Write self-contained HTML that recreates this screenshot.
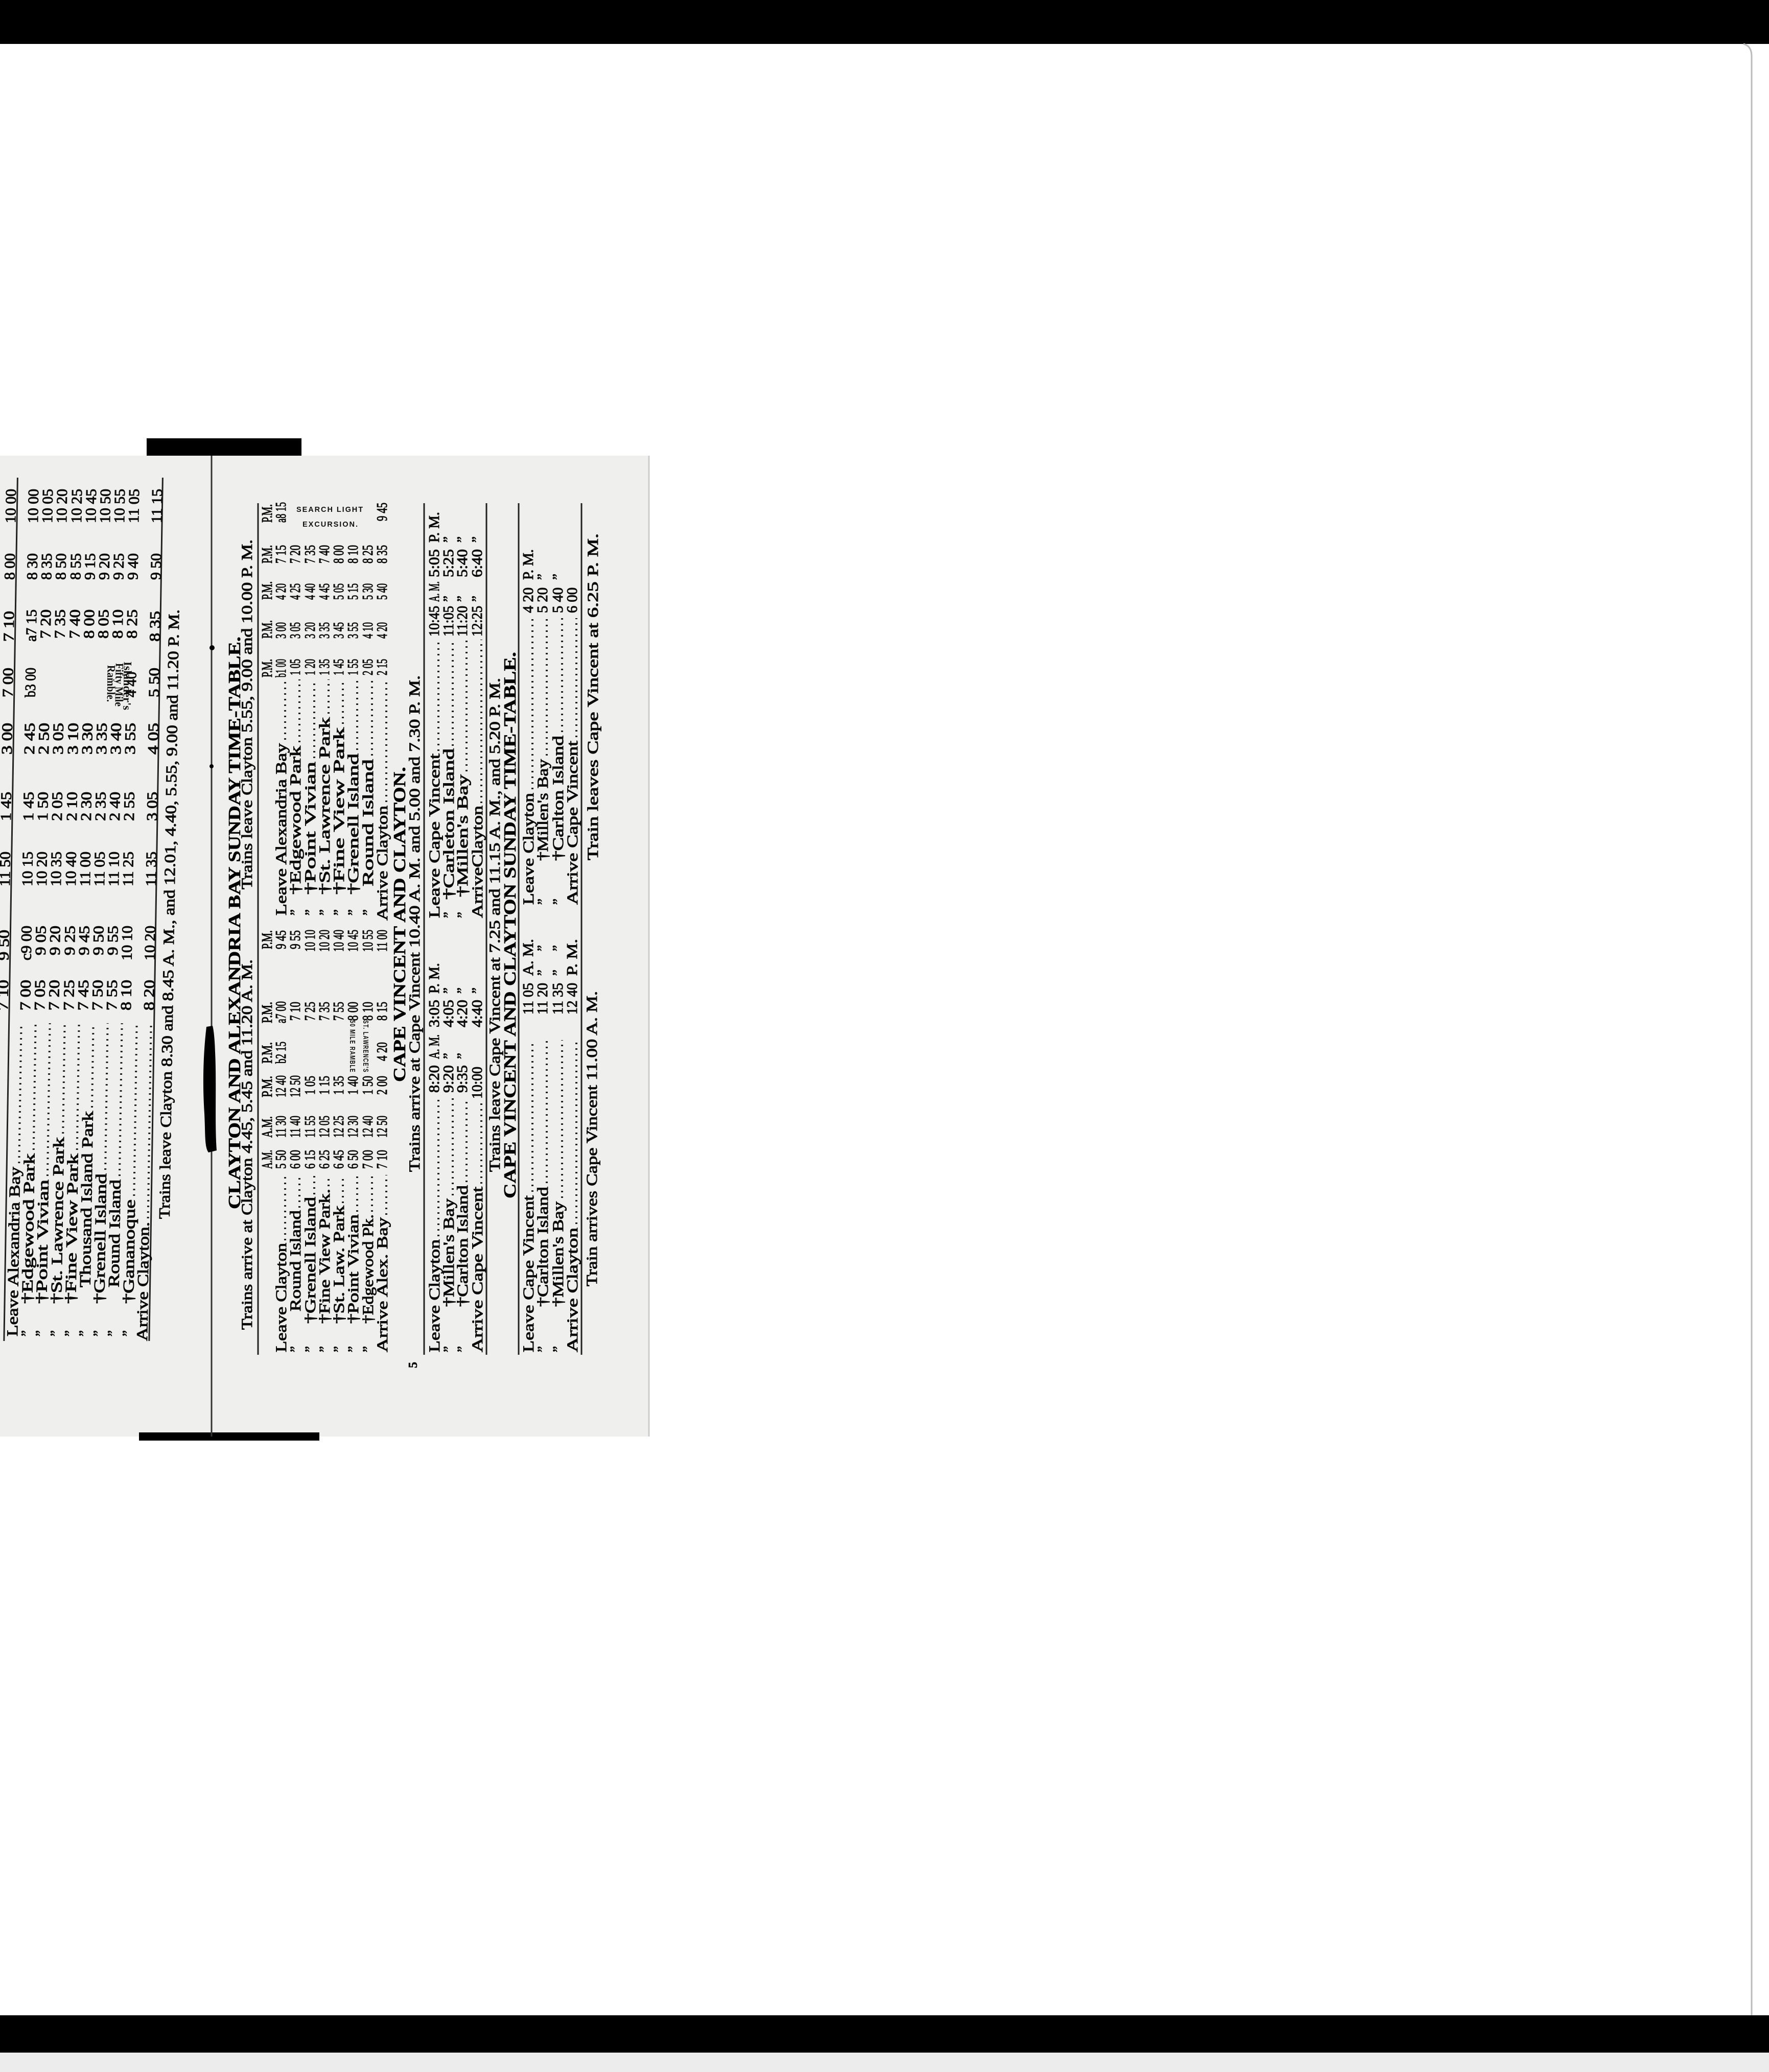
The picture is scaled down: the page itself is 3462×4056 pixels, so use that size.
<!DOCTYPE html>
<html><head><meta charset="utf-8"><style>
html,body{margin:0;padding:0;background:#fff}
svg{display:block}
.t{font-family:"Liberation Serif",serif;font-size:30px;fill:#0a0a0a;stroke:#0a0a0a;stroke-width:1}
.m{font-family:"Liberation Serif",serif;font-size:29px;fill:#0a0a0a;stroke:#0a0a0a;stroke-width:1}
.b{font-family:"Liberation Serif",serif;font-size:34px;font-weight:bold;fill:#000;stroke:#000;stroke-width:0.6}
.s{font-family:"Liberation Sans",sans-serif;font-size:15px;font-weight:bold;fill:#111;letter-spacing:2px}
.r{stroke:#222;stroke-width:3}
.d{stroke:#222;stroke-width:4;stroke-dasharray:3 8}
</style></head><body>
<svg width="3462" height="4056" viewBox="0 0 3462 4056" xmlns="http://www.w3.org/2000/svg">
<rect x="0" y="0" width="3462" height="4056" fill="#fff"/>
<rect x="0" y="0" width="3462" height="86" fill="#000"/>
<path d="M3412 86 Q3428 90 3428 110 L3428 3945" stroke="#bbb" stroke-width="3" fill="none"/>
<rect x="0" y="3945" width="3462" height="73" fill="#000"/>
<rect x="0" y="4018" width="3462" height="38" fill="#ececec"/>

<!-- card -->
<rect x="0" y="892" width="1270" height="1920" fill="#efefed"/>
<line x1="1270" y1="892" x2="1270" y2="2812" stroke="#ccc" stroke-width="3"/>
<rect x="287" y="858" width="303" height="34" fill="#000"/>
<rect x="272" y="2804" width="353" height="16" fill="#000"/>
<line x1="414" y1="892" x2="414" y2="2812" stroke="#333" stroke-width="3"/>
<path d="M404 2010 C398 2060 396 2120 400 2180 C402 2220 400 2245 408 2256 L424 2252 C420 2200 424 2120 421 2060 C420 2030 418 2015 416 2008 Z" fill="#000"/>
<circle cx="415" cy="1268" r="5" fill="#000"/><circle cx="414" cy="1500" r="4" fill="#000"/>

<!-- RIGHT PANEL -->
<text class="b" transform="translate(470 2367)rotate(-90)" textLength="1121" lengthAdjust="spacingAndGlyphs">CLAYTON AND ALEXANDRIA BAY SUNDAY TIME-TABLE.</text>
<text class="t" transform="translate(493 2603)rotate(-90)" textLength="725" lengthAdjust="spacingAndGlyphs">Trains arrive at Clayton 4.45, 5.45 and 11.20 A. M.</text>
<text class="t" transform="translate(493 1741)rotate(-90)" textLength="685" lengthAdjust="spacingAndGlyphs">Trains leave Clayton 5.55, 9.00 and 10.00 P. M.</text>
<line class="r" x1="505" y1="2652" x2="505" y2="985"/>
<!-- headers -->
<g class="m">
<text transform="translate(532 2288)rotate(-90)" textLength="37" lengthAdjust="spacingAndGlyphs">A.M.</text>
<text transform="translate(532 2227)rotate(-90)" textLength="42" lengthAdjust="spacingAndGlyphs">A.M.</text>
<text transform="translate(532 2148)rotate(-90)" textLength="42" lengthAdjust="spacingAndGlyphs">P.M.</text>
<text transform="translate(532 2082)rotate(-90)" textLength="42" lengthAdjust="spacingAndGlyphs">P.M.</text>
<text transform="translate(532 2003)rotate(-90)" textLength="42" lengthAdjust="spacingAndGlyphs">P.M.</text>
<text transform="translate(532 1858)rotate(-90)" textLength="37" lengthAdjust="spacingAndGlyphs">P.M.</text>
<text transform="translate(532 1326)rotate(-90)" textLength="36" lengthAdjust="spacingAndGlyphs">P.M.</text>
<text transform="translate(532 1250)rotate(-90)" textLength="36" lengthAdjust="spacingAndGlyphs">P.M.</text>
<text transform="translate(532 1174)rotate(-90)" textLength="36" lengthAdjust="spacingAndGlyphs">P.M.</text>
<text transform="translate(532 1103)rotate(-90)" textLength="36" lengthAdjust="spacingAndGlyphs">P.M.</text>
<text transform="translate(532 1023)rotate(-90)" textLength="36" lengthAdjust="spacingAndGlyphs">P.M.</text>
</g>
<!-- left labels main -->
<g class="t">
<text transform="translate(560 2647)rotate(-90)" textLength="214" lengthAdjust="spacingAndGlyphs">Leave Clayton</text>
<text transform="translate(588 2647)rotate(-90)" textLength="12" lengthAdjust="spacingAndGlyphs">”</text>
<text transform="translate(588 2567)rotate(-90)" textLength="198" lengthAdjust="spacingAndGlyphs">Round Island</text>
<text transform="translate(617 2647)rotate(-90)" textLength="12" lengthAdjust="spacingAndGlyphs">”</text>
<text transform="translate(617 2591)rotate(-90)" textLength="248" lengthAdjust="spacingAndGlyphs">†Grenell Island</text>
<text transform="translate(645 2647)rotate(-90)" textLength="12" lengthAdjust="spacingAndGlyphs">”</text>
<text transform="translate(645 2591)rotate(-90)" textLength="264" lengthAdjust="spacingAndGlyphs">†Fine View Park.</text>
<text transform="translate(673 2647)rotate(-90)" textLength="12" lengthAdjust="spacingAndGlyphs">”</text>
<text transform="translate(673 2591)rotate(-90)" textLength="231" lengthAdjust="spacingAndGlyphs">†St. Law. Park</text>
<text transform="translate(701 2647)rotate(-90)" textLength="12" lengthAdjust="spacingAndGlyphs">”</text>
<text transform="translate(701 2591)rotate(-90)" textLength="214" lengthAdjust="spacingAndGlyphs">†Point Vivian</text>
<text transform="translate(730 2647)rotate(-90)" textLength="12" lengthAdjust="spacingAndGlyphs">”</text>
<text transform="translate(730 2591)rotate(-90)" textLength="214" lengthAdjust="spacingAndGlyphs">†Edgewood Pk.</text>
<text transform="translate(758 2647)rotate(-90)" textLength="264" lengthAdjust="spacingAndGlyphs">Arrive Alex. Bay</text>
</g>
<g>
<line class="d" x1="558" y1="2428" x2="558" y2="2300"/>
<line class="d" x1="586" y1="2364" x2="586" y2="2300"/>
<line class="d" x1="615" y1="2338" x2="615" y2="2300"/>
<line class="d" x1="643" y1="2322" x2="643" y2="2300"/>
<line class="d" x1="671" y1="2355" x2="671" y2="2300"/>
<line class="d" x1="699" y1="2372" x2="699" y2="2300"/>
<line class="d" x1="728" y1="2372" x2="728" y2="2300"/>
<line class="d" x1="756" y1="2378" x2="756" y2="2300"/>
</g>
<!-- right labels main -->
<g class="t">
<text transform="translate(560 1792)rotate(-90)" textLength="337" lengthAdjust="spacingAndGlyphs">Leave Alexandria Bay</text>
<text transform="translate(588 1792)rotate(-90)" textLength="12" lengthAdjust="spacingAndGlyphs">”</text>
<text transform="translate(588 1751)rotate(-90)" textLength="291" lengthAdjust="spacingAndGlyphs">†Edgewood Park</text>
<text transform="translate(617 1792)rotate(-90)" textLength="12" lengthAdjust="spacingAndGlyphs">”</text>
<text transform="translate(617 1751)rotate(-90)" textLength="260" lengthAdjust="spacingAndGlyphs">†Point Vivian</text>
<text transform="translate(645 1792)rotate(-90)" textLength="12" lengthAdjust="spacingAndGlyphs">”</text>
<text transform="translate(645 1751)rotate(-90)" textLength="347" lengthAdjust="spacingAndGlyphs">†St. Lawrence  Park</text>
<text transform="translate(673 1792)rotate(-90)" textLength="12" lengthAdjust="spacingAndGlyphs">”</text>
<text transform="translate(673 1751)rotate(-90)" textLength="327" lengthAdjust="spacingAndGlyphs">†Fine View Park</text>
<text transform="translate(701 1792)rotate(-90)" textLength="12" lengthAdjust="spacingAndGlyphs">”</text>
<text transform="translate(701 1751)rotate(-90)" textLength="276" lengthAdjust="spacingAndGlyphs">†Grenell Island</text>
<text transform="translate(730 1792)rotate(-90)" textLength="12" lengthAdjust="spacingAndGlyphs">”</text>
<text transform="translate(730 1735)rotate(-90)" textLength="249" lengthAdjust="spacingAndGlyphs">Round Island</text>
<text transform="translate(758 1802)rotate(-90)" textLength="225" lengthAdjust="spacingAndGlyphs">Arrive Clayton</text>
</g>
<g>
<line class="d" x1="558" y1="1448" x2="558" y2="1330"/>
<line class="d" x1="586" y1="1453" x2="586" y2="1330"/>
<line class="d" x1="615" y1="1484" x2="615" y2="1330"/>
<line class="d" x1="643" y1="1397" x2="643" y2="1330"/>
<line class="d" x1="671" y1="1417" x2="671" y2="1330"/>
<line class="d" x1="699" y1="1468" x2="699" y2="1330"/>
<line class="d" x1="728" y1="1479" x2="728" y2="1330"/>
<line class="d" x1="756" y1="1570" x2="756" y2="1330"/>
</g>
<!-- main times -->
<g class="m">
<text transform="translate(559 2288)rotate(-90)" textLength="37" lengthAdjust="spacingAndGlyphs">5 50</text>
<text transform="translate(559 2227)rotate(-90)" textLength="43" lengthAdjust="spacingAndGlyphs">11 30</text>
<text transform="translate(559 2148)rotate(-90)" textLength="43" lengthAdjust="spacingAndGlyphs">12 40</text>
<text transform="translate(559 2082)rotate(-90)" textLength="43" lengthAdjust="spacingAndGlyphs">b2 15</text>
<text transform="translate(559 2003)rotate(-90)" textLength="43" lengthAdjust="spacingAndGlyphs">a7 00</text>
<text transform="translate(559 1858)rotate(-90)" textLength="37" lengthAdjust="spacingAndGlyphs">9 45</text>

<text transform="translate(587 2288)rotate(-90)" textLength="37" lengthAdjust="spacingAndGlyphs">6 00</text>
<text transform="translate(587 2227)rotate(-90)" textLength="43" lengthAdjust="spacingAndGlyphs">11 40</text>
<text transform="translate(587 2148)rotate(-90)" textLength="43" lengthAdjust="spacingAndGlyphs">12 50</text>
<text transform="translate(587 1998)rotate(-90)" textLength="37" lengthAdjust="spacingAndGlyphs">7 10</text>
<text transform="translate(587 1858)rotate(-90)" textLength="37" lengthAdjust="spacingAndGlyphs">9 55</text>

<text transform="translate(616 2288)rotate(-90)" textLength="37" lengthAdjust="spacingAndGlyphs">6 15</text>
<text transform="translate(616 2227)rotate(-90)" textLength="43" lengthAdjust="spacingAndGlyphs">11 55</text>
<text transform="translate(616 2143)rotate(-90)" textLength="37" lengthAdjust="spacingAndGlyphs">1 05</text>
<text transform="translate(616 1998)rotate(-90)" textLength="37" lengthAdjust="spacingAndGlyphs">7 25</text>
<text transform="translate(616 1863)rotate(-90)" textLength="43" lengthAdjust="spacingAndGlyphs">10 10</text>

<text transform="translate(644 2288)rotate(-90)" textLength="37" lengthAdjust="spacingAndGlyphs">6 25</text>
<text transform="translate(644 2227)rotate(-90)" textLength="43" lengthAdjust="spacingAndGlyphs">12 05</text>
<text transform="translate(644 2143)rotate(-90)" textLength="37" lengthAdjust="spacingAndGlyphs">1 15</text>
<text transform="translate(644 1998)rotate(-90)" textLength="37" lengthAdjust="spacingAndGlyphs">7 35</text>
<text transform="translate(644 1863)rotate(-90)" textLength="43" lengthAdjust="spacingAndGlyphs">10 20</text>

<text transform="translate(672 2288)rotate(-90)" textLength="37" lengthAdjust="spacingAndGlyphs">6 45</text>
<text transform="translate(672 2227)rotate(-90)" textLength="43" lengthAdjust="spacingAndGlyphs">12 25</text>
<text transform="translate(672 2143)rotate(-90)" textLength="37" lengthAdjust="spacingAndGlyphs">1 35</text>
<text transform="translate(672 1998)rotate(-90)" textLength="37" lengthAdjust="spacingAndGlyphs">7 55</text>
<text transform="translate(672 1863)rotate(-90)" textLength="43" lengthAdjust="spacingAndGlyphs">10 40</text>

<text transform="translate(700 2288)rotate(-90)" textLength="37" lengthAdjust="spacingAndGlyphs">6 50</text>
<text transform="translate(700 2227)rotate(-90)" textLength="43" lengthAdjust="spacingAndGlyphs">12 30</text>
<text transform="translate(700 2143)rotate(-90)" textLength="37" lengthAdjust="spacingAndGlyphs">1 40</text>
<text transform="translate(700 1998)rotate(-90)" textLength="37" lengthAdjust="spacingAndGlyphs">8 00</text>
<text transform="translate(700 1863)rotate(-90)" textLength="43" lengthAdjust="spacingAndGlyphs">10 45</text>

<text transform="translate(729 2288)rotate(-90)" textLength="37" lengthAdjust="spacingAndGlyphs">7 00</text>
<text transform="translate(729 2227)rotate(-90)" textLength="43" lengthAdjust="spacingAndGlyphs">12 40</text>
<text transform="translate(729 2143)rotate(-90)" textLength="37" lengthAdjust="spacingAndGlyphs">1 50</text>
<text transform="translate(729 1998)rotate(-90)" textLength="37" lengthAdjust="spacingAndGlyphs">8 10</text>
<text transform="translate(729 1863)rotate(-90)" textLength="43" lengthAdjust="spacingAndGlyphs">10 55</text>

<text transform="translate(757 2288)rotate(-90)" textLength="37" lengthAdjust="spacingAndGlyphs">7 10</text>
<text transform="translate(757 2227)rotate(-90)" textLength="43" lengthAdjust="spacingAndGlyphs">12 50</text>
<text transform="translate(757 2143)rotate(-90)" textLength="37" lengthAdjust="spacingAndGlyphs">2 00</text>
<text transform="translate(757 2077)rotate(-90)" textLength="37" lengthAdjust="spacingAndGlyphs">4 20</text>
<text transform="translate(757 1998)rotate(-90)" textLength="37" lengthAdjust="spacingAndGlyphs">8 15</text>
<text transform="translate(757 1863)rotate(-90)" textLength="43" lengthAdjust="spacingAndGlyphs">11 00</text>

<!-- right columns -->
<text transform="translate(559 1326)rotate(-90)" textLength="36" lengthAdjust="spacingAndGlyphs">b1 00</text>
<text transform="translate(559 1250)rotate(-90)" textLength="32" lengthAdjust="spacingAndGlyphs">3 00</text>
<text transform="translate(559 1174)rotate(-90)" textLength="32" lengthAdjust="spacingAndGlyphs">4 20</text>
<text transform="translate(559 1103)rotate(-90)" textLength="36" lengthAdjust="spacingAndGlyphs">7 15</text>
<text transform="translate(559 1023)rotate(-90)" textLength="40" lengthAdjust="spacingAndGlyphs">a8 15</text>

<text transform="translate(587 1322)rotate(-90)" textLength="32" lengthAdjust="spacingAndGlyphs">1 05</text>
<text transform="translate(587 1250)rotate(-90)" textLength="32" lengthAdjust="spacingAndGlyphs">3 05</text>
<text transform="translate(587 1174)rotate(-90)" textLength="32" lengthAdjust="spacingAndGlyphs">4 25</text>
<text transform="translate(587 1103)rotate(-90)" textLength="36" lengthAdjust="spacingAndGlyphs">7 20</text>

<text transform="translate(616 1322)rotate(-90)" textLength="32" lengthAdjust="spacingAndGlyphs">1 20</text>
<text transform="translate(616 1250)rotate(-90)" textLength="32" lengthAdjust="spacingAndGlyphs">3 20</text>
<text transform="translate(616 1174)rotate(-90)" textLength="32" lengthAdjust="spacingAndGlyphs">4 40</text>
<text transform="translate(616 1103)rotate(-90)" textLength="36" lengthAdjust="spacingAndGlyphs">7 35</text>

<text transform="translate(644 1322)rotate(-90)" textLength="32" lengthAdjust="spacingAndGlyphs">1 35</text>
<text transform="translate(644 1250)rotate(-90)" textLength="32" lengthAdjust="spacingAndGlyphs">3 35</text>
<text transform="translate(644 1174)rotate(-90)" textLength="32" lengthAdjust="spacingAndGlyphs">4 45</text>
<text transform="translate(644 1103)rotate(-90)" textLength="36" lengthAdjust="spacingAndGlyphs">7 40</text>

<text transform="translate(672 1322)rotate(-90)" textLength="32" lengthAdjust="spacingAndGlyphs">1 45</text>
<text transform="translate(672 1250)rotate(-90)" textLength="32" lengthAdjust="spacingAndGlyphs">3 45</text>
<text transform="translate(672 1174)rotate(-90)" textLength="32" lengthAdjust="spacingAndGlyphs">5 05</text>
<text transform="translate(672 1103)rotate(-90)" textLength="36" lengthAdjust="spacingAndGlyphs">8 00</text>

<text transform="translate(700 1322)rotate(-90)" textLength="32" lengthAdjust="spacingAndGlyphs">1 55</text>
<text transform="translate(700 1250)rotate(-90)" textLength="32" lengthAdjust="spacingAndGlyphs">3 55</text>
<text transform="translate(700 1174)rotate(-90)" textLength="32" lengthAdjust="spacingAndGlyphs">5 15</text>
<text transform="translate(700 1103)rotate(-90)" textLength="36" lengthAdjust="spacingAndGlyphs">8 10</text>

<text transform="translate(729 1322)rotate(-90)" textLength="32" lengthAdjust="spacingAndGlyphs">2 05</text>
<text transform="translate(729 1250)rotate(-90)" textLength="32" lengthAdjust="spacingAndGlyphs">4 10</text>
<text transform="translate(729 1174)rotate(-90)" textLength="32" lengthAdjust="spacingAndGlyphs">5 30</text>
<text transform="translate(729 1103)rotate(-90)" textLength="36" lengthAdjust="spacingAndGlyphs">8 25</text>

<text transform="translate(757 1322)rotate(-90)" textLength="32" lengthAdjust="spacingAndGlyphs">2 15</text>
<text transform="translate(757 1250)rotate(-90)" textLength="32" lengthAdjust="spacingAndGlyphs">4 20</text>
<text transform="translate(757 1174)rotate(-90)" textLength="32" lengthAdjust="spacingAndGlyphs">5 40</text>
<text transform="translate(757 1103)rotate(-90)" textLength="36" lengthAdjust="spacingAndGlyphs">8 35</text>
<text transform="translate(757 1020)rotate(-90)" textLength="36" lengthAdjust="spacingAndGlyphs">9 45</text>
</g>
<!-- ramble / search light -->
<text class="s" transform="translate(711 1997)rotate(90)" textLength="103" lengthAdjust="spacingAndGlyphs">ST. LAWRENCE'S</text>
<text class="s" transform="translate(685 1997)rotate(90)" textLength="103" lengthAdjust="spacingAndGlyphs">50 MILE RAMBLE</text>
<text class="s" x="580" y="1002" textLength="132" lengthAdjust="spacingAndGlyphs">SEARCH LIGHT</text>
<text class="s" x="592" y="1031" textLength="110" lengthAdjust="spacingAndGlyphs">EXCURSION.</text>

<!-- CAPE VINCENT AND CLAYTON -->
<text class="b" transform="translate(793 2118)rotate(-90)" textLength="617" lengthAdjust="spacingAndGlyphs">CAPE VINCENT AND CLAYTON.</text>
<text class="t" transform="translate(821 2294)rotate(-90)" textLength="972" lengthAdjust="spacingAndGlyphs">Trains arrive at Cape Vincent 10.40 A. M. and 5.00 and 7.30 P. M.</text>
<line class="r" x1="830" y1="2652" x2="830" y2="985"/>
<g class="t">
<text transform="translate(860 2647)rotate(-90)" textLength="221" lengthAdjust="spacingAndGlyphs">Leave Clayton</text>
<text transform="translate(888 2647)rotate(-90)" textLength="12" lengthAdjust="spacingAndGlyphs">”</text>
<text transform="translate(888 2558)rotate(-90)" textLength="212" lengthAdjust="spacingAndGlyphs">†Millen's  Bay</text>
<text transform="translate(915 2647)rotate(-90)" textLength="12" lengthAdjust="spacingAndGlyphs">”</text>
<text transform="translate(915 2558)rotate(-90)" textLength="238" lengthAdjust="spacingAndGlyphs">†Carlton Island</text>
<text transform="translate(944 2647)rotate(-90)" textLength="324" lengthAdjust="spacingAndGlyphs">Arrive Cape Vincent</text>
<text transform="translate(860 1797)rotate(-90)" textLength="322" lengthAdjust="spacingAndGlyphs">Leave Cape  Vincent</text>
<text transform="translate(888 1797)rotate(-90)" textLength="12" lengthAdjust="spacingAndGlyphs">”</text>
<text transform="translate(888 1761)rotate(-90)" textLength="296" lengthAdjust="spacingAndGlyphs">†Carleton Island</text>
<text transform="translate(915 1797)rotate(-90)" textLength="12" lengthAdjust="spacingAndGlyphs">”</text>
<text transform="translate(915 1756)rotate(-90)" textLength="240" lengthAdjust="spacingAndGlyphs">†Millen's  Bay</text>
<text transform="translate(944 1797)rotate(-90)" textLength="220" lengthAdjust="spacingAndGlyphs">ArriveClayton</text>
</g>
<line class="d" x1="858" y1="2420" x2="858" y2="2150"/>
<line class="d" x1="886" y1="2340" x2="886" y2="2150"/>
<line class="d" x1="913" y1="2314" x2="913" y2="2150"/>
<line class="d" x1="942" y1="2317" x2="942" y2="2160"/>
<line class="d" x1="858" y1="1470" x2="858" y2="1252"/>
<line class="d" x1="886" y1="1460" x2="886" y2="1252"/>
<line class="d" x1="913" y1="1510" x2="913" y2="1252"/>
<line class="d" x1="942" y1="1572" x2="942" y2="1252"/>
<g class="m">
<text transform="translate(859 2139)rotate(-90)" textLength="54" lengthAdjust="spacingAndGlyphs">8:20</text>
<text transform="translate(859 2073)rotate(-90)" textLength="48" lengthAdjust="spacingAndGlyphs">A. M.</text>
<text transform="translate(887 2139)rotate(-90)" textLength="54" lengthAdjust="spacingAndGlyphs">9:20</text>
<text transform="translate(887 2073)rotate(-90)" textLength="12" lengthAdjust="spacingAndGlyphs">”</text>
<text transform="translate(914 2139)rotate(-90)" textLength="54" lengthAdjust="spacingAndGlyphs">9:35</text>
<text transform="translate(914 2073)rotate(-90)" textLength="12" lengthAdjust="spacingAndGlyphs">”</text>
<text transform="translate(943 2151)rotate(-90)" textLength="63" lengthAdjust="spacingAndGlyphs">10:00</text>
<text transform="translate(859 2011)rotate(-90)" textLength="54" lengthAdjust="spacingAndGlyphs">3:05</text>
<text transform="translate(859 1945)rotate(-90)" textLength="60" lengthAdjust="spacingAndGlyphs">P. M.</text>
<text transform="translate(887 2011)rotate(-90)" textLength="54" lengthAdjust="spacingAndGlyphs">4:05</text>
<text transform="translate(887 1945)rotate(-90)" textLength="12" lengthAdjust="spacingAndGlyphs">”</text>
<text transform="translate(914 2011)rotate(-90)" textLength="54" lengthAdjust="spacingAndGlyphs">4:20</text>
<text transform="translate(914 1945)rotate(-90)" textLength="12" lengthAdjust="spacingAndGlyphs">”</text>
<text transform="translate(943 2011)rotate(-90)" textLength="54" lengthAdjust="spacingAndGlyphs">4:40</text>
<text transform="translate(943 1945)rotate(-90)" textLength="12" lengthAdjust="spacingAndGlyphs">”</text>
<text transform="translate(859 1246)rotate(-90)" textLength="60" lengthAdjust="spacingAndGlyphs">10:45</text>
<text transform="translate(859 1178)rotate(-90)" textLength="40" lengthAdjust="spacingAndGlyphs">A. M.</text>
<text transform="translate(887 1246)rotate(-90)" textLength="60" lengthAdjust="spacingAndGlyphs">11:05</text>
<text transform="translate(887 1178)rotate(-90)" textLength="12" lengthAdjust="spacingAndGlyphs">”</text>
<text transform="translate(914 1246)rotate(-90)" textLength="60" lengthAdjust="spacingAndGlyphs">11:20</text>
<text transform="translate(914 1178)rotate(-90)" textLength="12" lengthAdjust="spacingAndGlyphs">”</text>
<text transform="translate(943 1246)rotate(-90)" textLength="60" lengthAdjust="spacingAndGlyphs">12:25</text>
<text transform="translate(943 1178)rotate(-90)" textLength="12" lengthAdjust="spacingAndGlyphs">”</text>
<text transform="translate(859 1130)rotate(-90)" textLength="55" lengthAdjust="spacingAndGlyphs">5:05</text>
<text transform="translate(859 1062)rotate(-90)" textLength="60" lengthAdjust="spacingAndGlyphs">P. M.</text>
<text transform="translate(887 1130)rotate(-90)" textLength="55" lengthAdjust="spacingAndGlyphs">5:25</text>
<text transform="translate(887 1062)rotate(-90)" textLength="12" lengthAdjust="spacingAndGlyphs">”</text>
<text transform="translate(914 1130)rotate(-90)" textLength="55" lengthAdjust="spacingAndGlyphs">5:40</text>
<text transform="translate(914 1062)rotate(-90)" textLength="12" lengthAdjust="spacingAndGlyphs">”</text>
<text transform="translate(943 1130)rotate(-90)" textLength="55" lengthAdjust="spacingAndGlyphs">6:40</text>
<text transform="translate(943 1062)rotate(-90)" textLength="12" lengthAdjust="spacingAndGlyphs">”</text>
</g>
<line class="r" x1="952" y1="2652" x2="952" y2="985"/>
<text class="t" transform="translate(978 2294)rotate(-90)" textLength="967" lengthAdjust="spacingAndGlyphs">Trains leave Cape Vincent at 7.25 and 11.15 A. M., and 5.20 P. M.</text>
<text class="b" transform="translate(1009 2346)rotate(-90)" textLength="1070" lengthAdjust="spacingAndGlyphs">CAPE VINCENT AND CLAYTON SUNDAY TIME-TABLE.</text>
<line class="r" x1="1015" y1="2652" x2="1015" y2="985"/>
<g class="t">
<text transform="translate(1044 2647)rotate(-90)" textLength="307" lengthAdjust="spacingAndGlyphs">Leave Cape Vincent</text>
<text transform="translate(1072 2647)rotate(-90)" textLength="12" lengthAdjust="spacingAndGlyphs">”</text>
<text transform="translate(1072 2558)rotate(-90)" textLength="235" lengthAdjust="spacingAndGlyphs">†Carlton Island</text>
<text transform="translate(1102 2647)rotate(-90)" textLength="12" lengthAdjust="spacingAndGlyphs">”</text>
<text transform="translate(1102 2558)rotate(-90)" textLength="206" lengthAdjust="spacingAndGlyphs">†Millen's Bay</text>
<text transform="translate(1130 2647)rotate(-90)" textLength="244" lengthAdjust="spacingAndGlyphs">Arrive Clayton</text>
<text transform="translate(1044 1771)rotate(-90)" textLength="219" lengthAdjust="spacingAndGlyphs">Leave Clayton</text>
<text transform="translate(1072 1771)rotate(-90)" textLength="12" lengthAdjust="spacingAndGlyphs">”</text>
<text transform="translate(1072 1685)rotate(-90)" textLength="199" lengthAdjust="spacingAndGlyphs">†Millen's Bay</text>
<text transform="translate(1102 1771)rotate(-90)" textLength="12" lengthAdjust="spacingAndGlyphs">”</text>
<text transform="translate(1102 1685)rotate(-90)" textLength="245" lengthAdjust="spacingAndGlyphs">†Carlton  Island</text>
<text transform="translate(1130 1771)rotate(-90)" textLength="321" lengthAdjust="spacingAndGlyphs">Arrive Cape Vincent</text>
</g>
<line class="d" x1="1042" y1="2333" x2="1042" y2="2036"/>
<line class="d" x1="1070" y1="2316" x2="1070" y2="2036"/>
<line class="d" x1="1100" y1="2345" x2="1100" y2="2036"/>
<line class="d" x1="1128" y1="2396" x2="1128" y2="2036"/>
<line class="d" x1="1042" y1="1545" x2="1042" y2="1210"/>
<line class="d" x1="1070" y1="1479" x2="1070" y2="1210"/>
<line class="d" x1="1100" y1="1433" x2="1100" y2="1210"/>
<line class="d" x1="1128" y1="1443" x2="1128" y2="1210"/>
<g class="m">
<text transform="translate(1043 1986)rotate(-90)" textLength="62" lengthAdjust="spacingAndGlyphs">11 05</text>
<text transform="translate(1043 1910)rotate(-90)" textLength="72" lengthAdjust="spacingAndGlyphs">A. M.</text>
<text transform="translate(1071 1986)rotate(-90)" textLength="62" lengthAdjust="spacingAndGlyphs">11 20</text>
<text transform="translate(1071 1910)rotate(-90)" textLength="12" lengthAdjust="spacingAndGlyphs">”</text>
<text transform="translate(1071 1862)rotate(-90)" textLength="12" lengthAdjust="spacingAndGlyphs">”</text>
<text transform="translate(1101 1986)rotate(-90)" textLength="62" lengthAdjust="spacingAndGlyphs">11 35</text>
<text transform="translate(1101 1910)rotate(-90)" textLength="12" lengthAdjust="spacingAndGlyphs">”</text>
<text transform="translate(1101 1862)rotate(-90)" textLength="12" lengthAdjust="spacingAndGlyphs">”</text>
<text transform="translate(1129 1986)rotate(-90)" textLength="62" lengthAdjust="spacingAndGlyphs">12 40</text>
<text transform="translate(1129 1910)rotate(-90)" textLength="72" lengthAdjust="spacingAndGlyphs">P. M.</text>
<text transform="translate(1043 1200)rotate(-90)" textLength="50" lengthAdjust="spacingAndGlyphs">4 20</text>
<text transform="translate(1043 1135)rotate(-90)" textLength="60" lengthAdjust="spacingAndGlyphs">P. M.</text>
<text transform="translate(1071 1200)rotate(-90)" textLength="50" lengthAdjust="spacingAndGlyphs">5 20</text>
<text transform="translate(1071 1135)rotate(-90)" textLength="12" lengthAdjust="spacingAndGlyphs">”</text>
<text transform="translate(1101 1200)rotate(-90)" textLength="50" lengthAdjust="spacingAndGlyphs">5 40</text>
<text transform="translate(1101 1135)rotate(-90)" textLength="12" lengthAdjust="spacingAndGlyphs">”</text>
<text transform="translate(1129 1200)rotate(-90)" textLength="50" lengthAdjust="spacingAndGlyphs">6 00</text>
</g>
<line class="r" x1="1138" y1="2652" x2="1138" y2="985"/>
<text class="t" transform="translate(1168 2518)rotate(-90)" textLength="578" lengthAdjust="spacingAndGlyphs">Train arrives Cape Vincent 11.00 A. M.</text>
<text class="t" transform="translate(1170 1684)rotate(-90)" textLength="640" lengthAdjust="spacingAndGlyphs">Train leaves Cape Vincent at 6.25 P. M.</text>
<text class="b" style="font-size:24px" transform="translate(816 2678)rotate(-90)">5</text>

<!-- LEFT PANEL -->
<g transform="translate(0 2616) skewX(-0.9) translate(0 -2616)">
<line class="r" x1="8" y1="2625" x2="8" y2="935"/>
<line class="r" x1="292" y1="2625" x2="292" y2="935"/>
<g class="t">
<text transform="translate(34 2616)rotate(-90)" textLength="332" lengthAdjust="spacingAndGlyphs">Leave Alexandria Bay</text>
<text transform="translate(62 2616)rotate(-90)" textLength="12" lengthAdjust="spacingAndGlyphs">”</text>
<text transform="translate(62 2552)rotate(-90)" textLength="294" lengthAdjust="spacingAndGlyphs">†Edgewood Park</text>
<text transform="translate(90 2616)rotate(-90)" textLength="12" lengthAdjust="spacingAndGlyphs">”</text>
<text transform="translate(90 2552)rotate(-90)" textLength="243" lengthAdjust="spacingAndGlyphs">†Point Vivian</text>
<text transform="translate(119 2616)rotate(-90)" textLength="12" lengthAdjust="spacingAndGlyphs">”</text>
<text transform="translate(119 2552)rotate(-90)" textLength="326" lengthAdjust="spacingAndGlyphs">†St. Lawrence Park</text>
<text transform="translate(147 2616)rotate(-90)" textLength="12" lengthAdjust="spacingAndGlyphs">”</text>
<text transform="translate(147 2552)rotate(-90)" textLength="294" lengthAdjust="spacingAndGlyphs">†Fine View Park</text>
<text transform="translate(175 2616)rotate(-90)" textLength="12" lengthAdjust="spacingAndGlyphs">”</text>
<text transform="translate(175 2520)rotate(-90)" textLength="345" lengthAdjust="spacingAndGlyphs">Thousand Island Park</text>
<text transform="translate(203 2616)rotate(-90)" textLength="12" lengthAdjust="spacingAndGlyphs">”</text>
<text transform="translate(203 2552)rotate(-90)" textLength="255" lengthAdjust="spacingAndGlyphs">†Grenell Island</text>
<text transform="translate(231 2616)rotate(-90)" textLength="12" lengthAdjust="spacingAndGlyphs">”</text>
<text transform="translate(231 2520)rotate(-90)" textLength="211" lengthAdjust="spacingAndGlyphs">Round Island</text>
<text transform="translate(260 2616)rotate(-90)" textLength="12" lengthAdjust="spacingAndGlyphs">”</text>
<text transform="translate(260 2552)rotate(-90)" textLength="204" lengthAdjust="spacingAndGlyphs">†Gananoque</text>
<text transform="translate(288 2625)rotate(-90)" textLength="233" lengthAdjust="spacingAndGlyphs">Arrive Clayton.</text>
<text transform="translate(328 2386)rotate(-90)" textLength="1193" lengthAdjust="spacingAndGlyphs">Trains leave Clayton 8.30 and 8.45 A. M., and 12.01, 4.40, 5.55, 9.00 and 11.20 P. M.</text>
</g>
<line class="d" x1="32" y1="2277" x2="32" y2="2003"/>
<line class="d" x1="60" y1="2251" x2="60" y2="2003"/>
<line class="d" x1="88" y1="2302" x2="88" y2="2003"/>
<line class="d" x1="117" y1="2219" x2="117" y2="2003"/>
<line class="d" x1="145" y1="2251" x2="145" y2="2003"/>
<line class="d" x1="173" y1="2168" x2="173" y2="2003"/>
<line class="d" x1="201" y1="2290" x2="201" y2="2003"/>
<line class="d" x1="229" y1="2302" x2="229" y2="2003"/>
<line class="d" x1="258" y1="2341" x2="258" y2="2003"/>
<line class="d" x1="286" y1="2385" x2="286" y2="2003"/>
<g class="m">
<text transform="translate(5 1978)rotate(-90)" textLength="60" lengthAdjust="spacingAndGlyphs">7 10</text>
<text transform="translate(5 1880)rotate(-90)" textLength="60" lengthAdjust="spacingAndGlyphs">9 50</text>
<text transform="translate(5 1735)rotate(-90)" textLength="68" lengthAdjust="spacingAndGlyphs">11 50</text>
<text transform="translate(5 1607)rotate(-90)" textLength="57" lengthAdjust="spacingAndGlyphs">1 45</text>
<text transform="translate(5 1477)rotate(-90)" textLength="62" lengthAdjust="spacingAndGlyphs">3 00</text>
<text transform="translate(5 1365)rotate(-90)" textLength="58" lengthAdjust="spacingAndGlyphs">7 00</text>
<text transform="translate(5 1256)rotate(-90)" textLength="60" lengthAdjust="spacingAndGlyphs">7 10</text>
<text transform="translate(5 1135)rotate(-90)" textLength="52" lengthAdjust="spacingAndGlyphs">8 00</text>
<text transform="translate(5 1024)rotate(-90)" textLength="67" lengthAdjust="spacingAndGlyphs">10 00</text>
<text transform="translate(49 1978)rotate(-90)" textLength="60" lengthAdjust="spacingAndGlyphs">7 00</text>
<text transform="translate(49 1880)rotate(-90)" textLength="68" lengthAdjust="spacingAndGlyphs">c9 00</text>
<text transform="translate(49 1735)rotate(-90)" textLength="68" lengthAdjust="spacingAndGlyphs">10 15</text>
<text transform="translate(49 1607)rotate(-90)" textLength="57" lengthAdjust="spacingAndGlyphs">1 45</text>
<text transform="translate(49 1477)rotate(-90)" textLength="62" lengthAdjust="spacingAndGlyphs">2 45</text>
<text transform="translate(49 1365)rotate(-90)" textLength="58" lengthAdjust="spacingAndGlyphs">b3 00</text>
<text transform="translate(49 1256)rotate(-90)" textLength="63" lengthAdjust="spacingAndGlyphs">a7 15</text>
<text transform="translate(49 1135)rotate(-90)" textLength="52" lengthAdjust="spacingAndGlyphs">8 30</text>
<text transform="translate(49 1024)rotate(-90)" textLength="67" lengthAdjust="spacingAndGlyphs">10 00</text>
<text transform="translate(77 1978)rotate(-90)" textLength="60" lengthAdjust="spacingAndGlyphs">7 05</text>
<text transform="translate(77 1870)rotate(-90)" textLength="58" lengthAdjust="spacingAndGlyphs">9 05</text>
<text transform="translate(77 1735)rotate(-90)" textLength="68" lengthAdjust="spacingAndGlyphs">10 20</text>
<text transform="translate(77 1607)rotate(-90)" textLength="57" lengthAdjust="spacingAndGlyphs">1 50</text>
<text transform="translate(77 1477)rotate(-90)" textLength="62" lengthAdjust="spacingAndGlyphs">2 50</text>
<text transform="translate(77 1250)rotate(-90)" textLength="57" lengthAdjust="spacingAndGlyphs">7 20</text>
<text transform="translate(77 1135)rotate(-90)" textLength="52" lengthAdjust="spacingAndGlyphs">8 35</text>
<text transform="translate(77 1024)rotate(-90)" textLength="67" lengthAdjust="spacingAndGlyphs">10 05</text>
<text transform="translate(105 1978)rotate(-90)" textLength="60" lengthAdjust="spacingAndGlyphs">7 20</text>
<text transform="translate(105 1870)rotate(-90)" textLength="58" lengthAdjust="spacingAndGlyphs">9 20</text>
<text transform="translate(105 1735)rotate(-90)" textLength="68" lengthAdjust="spacingAndGlyphs">10 35</text>
<text transform="translate(105 1607)rotate(-90)" textLength="57" lengthAdjust="spacingAndGlyphs">2 05</text>
<text transform="translate(105 1477)rotate(-90)" textLength="62" lengthAdjust="spacingAndGlyphs">3 05</text>
<text transform="translate(105 1250)rotate(-90)" textLength="57" lengthAdjust="spacingAndGlyphs">7 35</text>
<text transform="translate(105 1135)rotate(-90)" textLength="52" lengthAdjust="spacingAndGlyphs">8 50</text>
<text transform="translate(105 1024)rotate(-90)" textLength="67" lengthAdjust="spacingAndGlyphs">10 20</text>
<text transform="translate(134 1978)rotate(-90)" textLength="60" lengthAdjust="spacingAndGlyphs">7 25</text>
<text transform="translate(134 1870)rotate(-90)" textLength="58" lengthAdjust="spacingAndGlyphs">9 25</text>
<text transform="translate(134 1735)rotate(-90)" textLength="68" lengthAdjust="spacingAndGlyphs">10 40</text>
<text transform="translate(134 1607)rotate(-90)" textLength="57" lengthAdjust="spacingAndGlyphs">2 10</text>
<text transform="translate(134 1477)rotate(-90)" textLength="62" lengthAdjust="spacingAndGlyphs">3 10</text>
<text transform="translate(134 1250)rotate(-90)" textLength="57" lengthAdjust="spacingAndGlyphs">7 40</text>
<text transform="translate(134 1135)rotate(-90)" textLength="52" lengthAdjust="spacingAndGlyphs">8 55</text>
<text transform="translate(134 1024)rotate(-90)" textLength="67" lengthAdjust="spacingAndGlyphs">10 25</text>
<text transform="translate(162 1978)rotate(-90)" textLength="60" lengthAdjust="spacingAndGlyphs">7 45</text>
<text transform="translate(162 1870)rotate(-90)" textLength="58" lengthAdjust="spacingAndGlyphs">9 45</text>
<text transform="translate(162 1735)rotate(-90)" textLength="68" lengthAdjust="spacingAndGlyphs">11 00</text>
<text transform="translate(162 1607)rotate(-90)" textLength="57" lengthAdjust="spacingAndGlyphs">2 30</text>
<text transform="translate(162 1477)rotate(-90)" textLength="62" lengthAdjust="spacingAndGlyphs">3 30</text>
<text transform="translate(162 1250)rotate(-90)" textLength="57" lengthAdjust="spacingAndGlyphs">8 00</text>
<text transform="translate(162 1135)rotate(-90)" textLength="52" lengthAdjust="spacingAndGlyphs">9 15</text>
<text transform="translate(162 1024)rotate(-90)" textLength="67" lengthAdjust="spacingAndGlyphs">10 45</text>
<text transform="translate(190 1978)rotate(-90)" textLength="60" lengthAdjust="spacingAndGlyphs">7 50</text>
<text transform="translate(190 1870)rotate(-90)" textLength="58" lengthAdjust="spacingAndGlyphs">9 50</text>
<text transform="translate(190 1735)rotate(-90)" textLength="68" lengthAdjust="spacingAndGlyphs">11 05</text>
<text transform="translate(190 1607)rotate(-90)" textLength="57" lengthAdjust="spacingAndGlyphs">2 35</text>
<text transform="translate(190 1477)rotate(-90)" textLength="62" lengthAdjust="spacingAndGlyphs">3 35</text>
<text transform="translate(190 1250)rotate(-90)" textLength="57" lengthAdjust="spacingAndGlyphs">8 05</text>
<text transform="translate(190 1135)rotate(-90)" textLength="52" lengthAdjust="spacingAndGlyphs">9 20</text>
<text transform="translate(190 1024)rotate(-90)" textLength="67" lengthAdjust="spacingAndGlyphs">10 50</text>
<text transform="translate(218 1978)rotate(-90)" textLength="60" lengthAdjust="spacingAndGlyphs">7 55</text>
<text transform="translate(218 1870)rotate(-90)" textLength="58" lengthAdjust="spacingAndGlyphs">9 55</text>
<text transform="translate(218 1735)rotate(-90)" textLength="68" lengthAdjust="spacingAndGlyphs">11 10</text>
<text transform="translate(218 1607)rotate(-90)" textLength="57" lengthAdjust="spacingAndGlyphs">2 40</text>
<text transform="translate(218 1477)rotate(-90)" textLength="62" lengthAdjust="spacingAndGlyphs">3 40</text>
<text transform="translate(218 1250)rotate(-90)" textLength="57" lengthAdjust="spacingAndGlyphs">8 10</text>
<text transform="translate(218 1135)rotate(-90)" textLength="52" lengthAdjust="spacingAndGlyphs">9 25</text>
<text transform="translate(218 1024)rotate(-90)" textLength="67" lengthAdjust="spacingAndGlyphs">10 55</text>
<text transform="translate(246 1978)rotate(-90)" textLength="60" lengthAdjust="spacingAndGlyphs">8 10</text>
<text transform="translate(246 1880)rotate(-90)" textLength="68" lengthAdjust="spacingAndGlyphs">10 10</text>
<text transform="translate(246 1735)rotate(-90)" textLength="68" lengthAdjust="spacingAndGlyphs">11 25</text>
<text transform="translate(246 1607)rotate(-90)" textLength="57" lengthAdjust="spacingAndGlyphs">2 55</text>
<text transform="translate(246 1477)rotate(-90)" textLength="62" lengthAdjust="spacingAndGlyphs">3 55</text>
<text transform="translate(246 1365)rotate(-90)" textLength="50" lengthAdjust="spacingAndGlyphs">4 40</text>
<text transform="translate(246 1250)rotate(-90)" textLength="57" lengthAdjust="spacingAndGlyphs">8 25</text>
<text transform="translate(246 1135)rotate(-90)" textLength="52" lengthAdjust="spacingAndGlyphs">9 40</text>
<text transform="translate(246 1024)rotate(-90)" textLength="67" lengthAdjust="spacingAndGlyphs">11 05</text>
<text transform="translate(291 1978)rotate(-90)" textLength="60" lengthAdjust="spacingAndGlyphs">8 20</text>
<text transform="translate(291 1880)rotate(-90)" textLength="68" lengthAdjust="spacingAndGlyphs">10 20</text>
<text transform="translate(291 1735)rotate(-90)" textLength="68" lengthAdjust="spacingAndGlyphs">11 35</text>
<text transform="translate(291 1607)rotate(-90)" textLength="57" lengthAdjust="spacingAndGlyphs">3 05</text>
<text transform="translate(291 1477)rotate(-90)" textLength="62" lengthAdjust="spacingAndGlyphs">4 05</text>
<text transform="translate(291 1365)rotate(-90)" textLength="58" lengthAdjust="spacingAndGlyphs">5 50</text>
<text transform="translate(291 1256)rotate(-90)" textLength="60" lengthAdjust="spacingAndGlyphs">8 35</text>
<text transform="translate(291 1135)rotate(-90)" textLength="52" lengthAdjust="spacingAndGlyphs">9 50</text>
<text transform="translate(291 1024)rotate(-90)" textLength="67" lengthAdjust="spacingAndGlyphs">11 15</text>
</g>
<g style="font-family:'Liberation Serif',serif;font-size:22px;font-weight:bold;fill:#111">
<text transform="translate(222 1295)rotate(90)" textLength="95" lengthAdjust="spacingAndGlyphs">Islander's</text>
<text transform="translate(206 1298)rotate(90)" textLength="85" lengthAdjust="spacingAndGlyphs">Fifty Mile</text>
<text transform="translate(190 1302)rotate(90)" textLength="72" lengthAdjust="spacingAndGlyphs">Ramble.</text>
</g>
</g>
</svg>
</body></html>
